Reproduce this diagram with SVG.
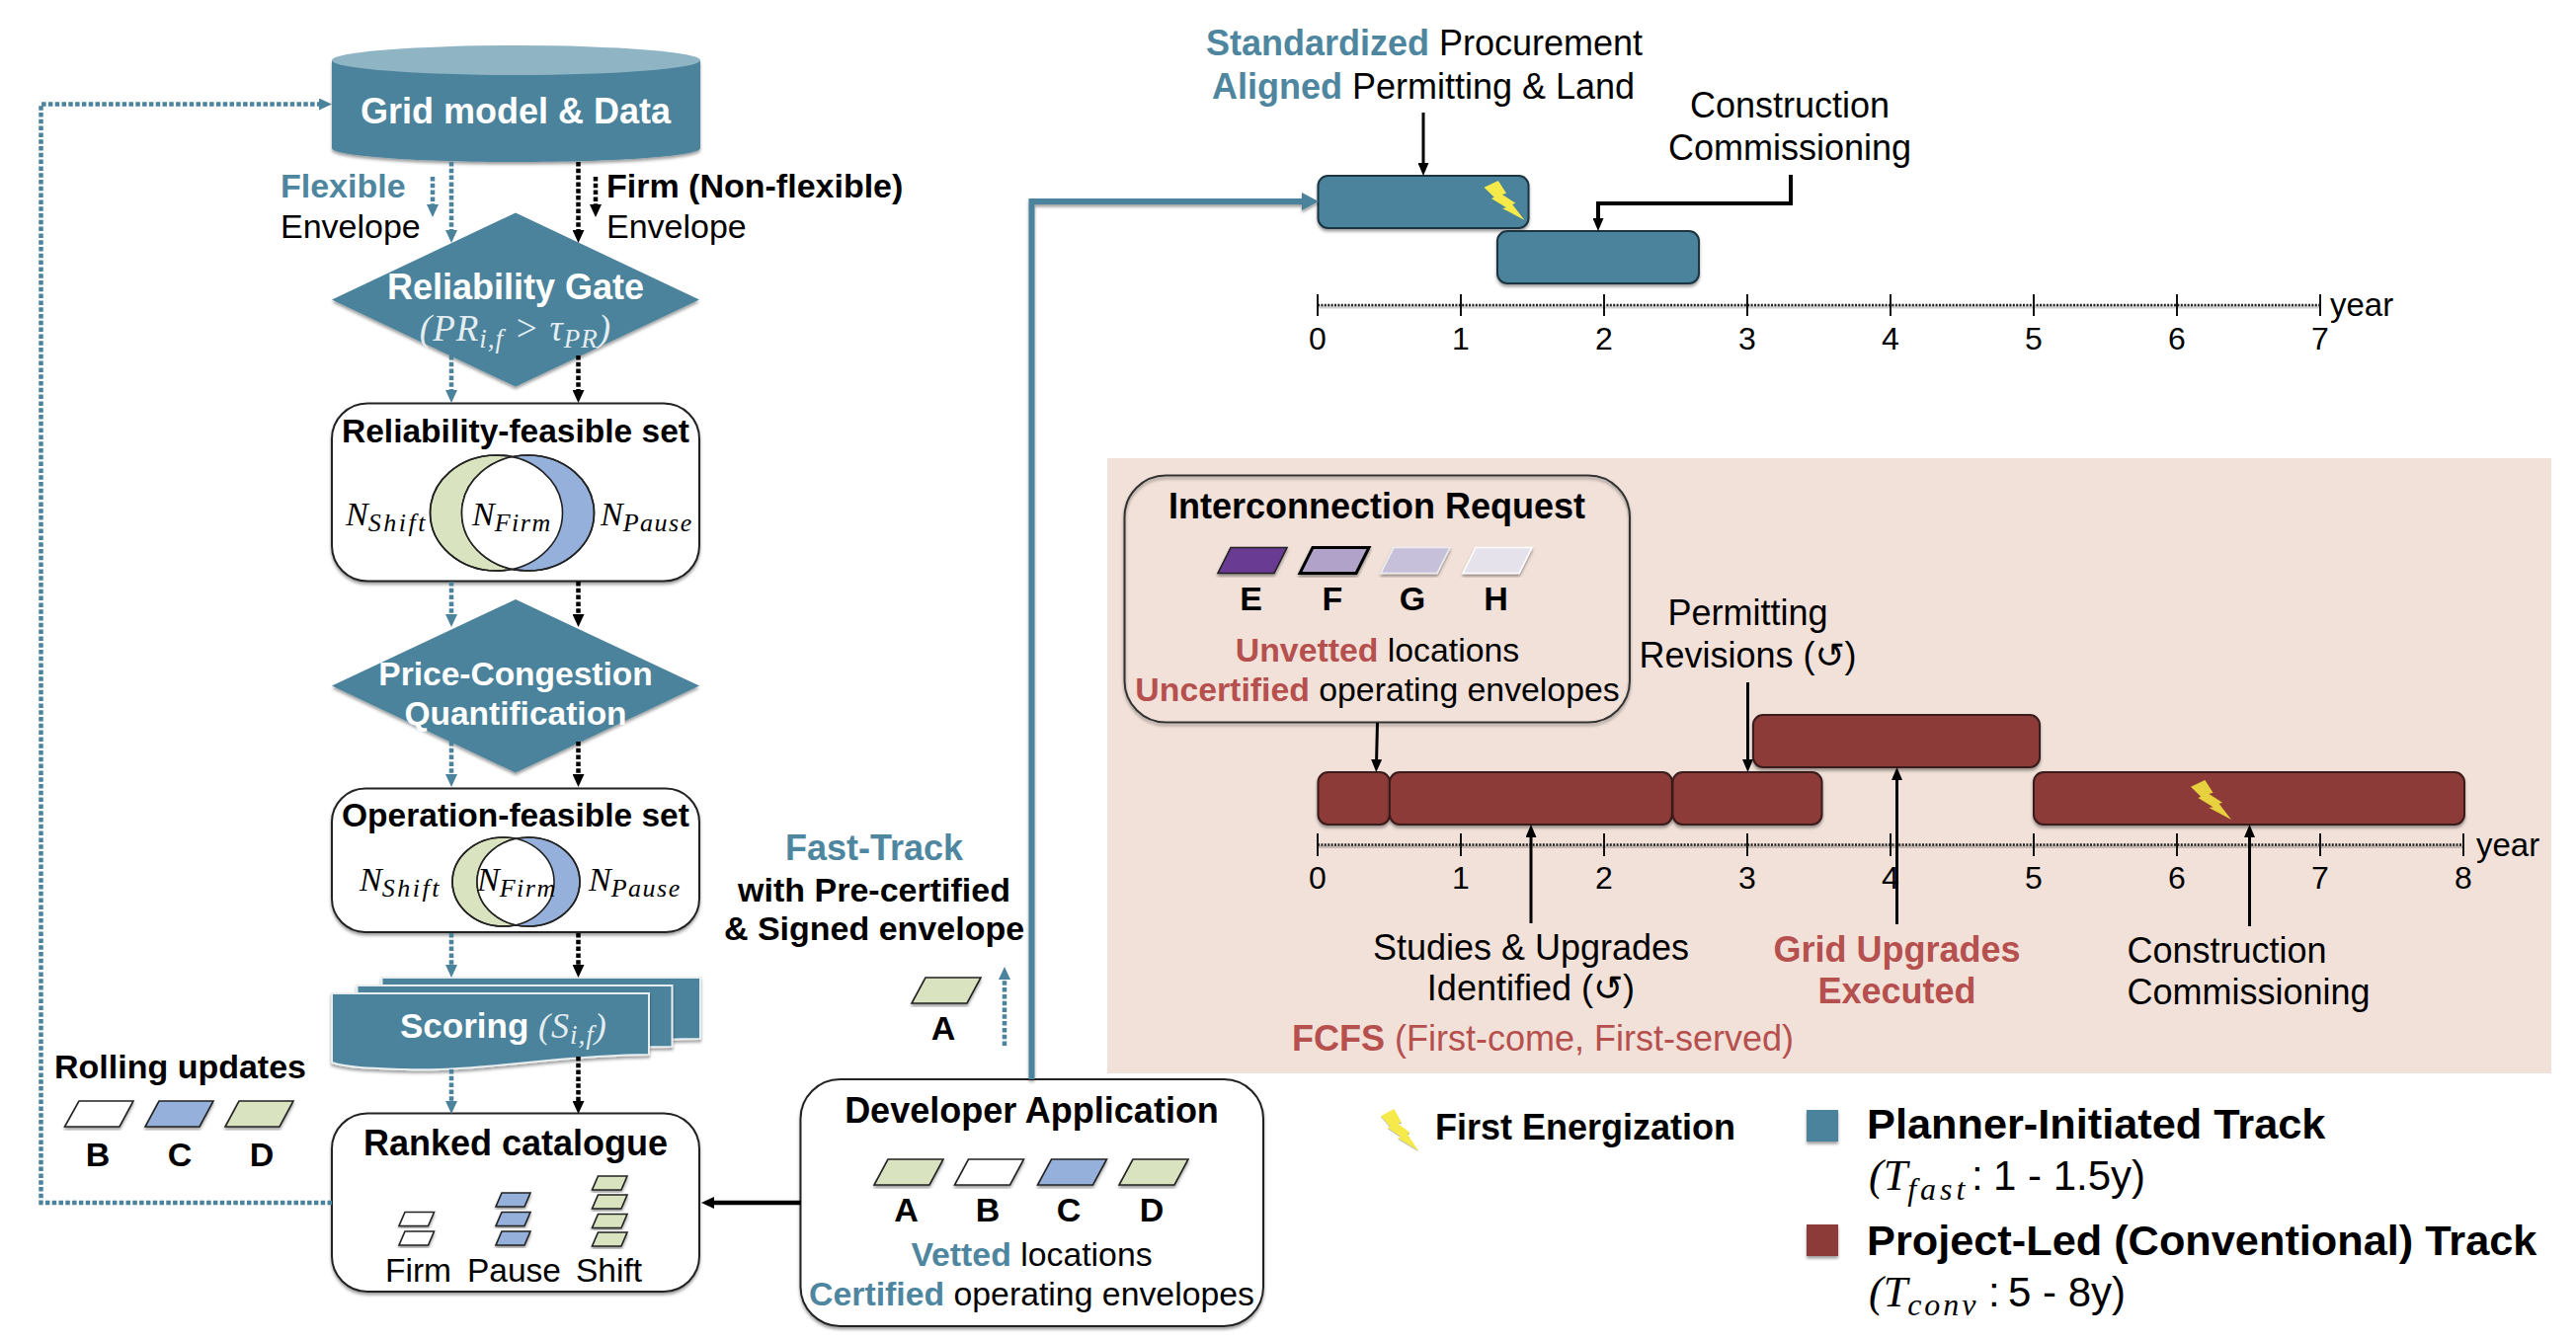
<svg xmlns="http://www.w3.org/2000/svg" width="2608" height="1356" viewBox="0 0 2608 1356">
<style>
text{font-family:"Liberation Sans","DejaVu Sans",sans-serif;fill:#000}
.m{text-anchor:middle}
.b{font-weight:700}
.w{fill:#fff}
.t{fill:#4e86a0}
.r{fill:#b5504e}
.s33{font-size:33.500px}.s34{font-size:34px}.s35{font-size:35px}.s36{font-size:36px}.s32{font-size:32px}.s43{font-size:43.300px}.s42{font-size:42px}
.math{font-family:"Liberation Serif","DejaVu Serif",serif;font-style:italic}
.wine{fill:#8c3a38;stroke:#3a1c1b;stroke-width:2;filter:url(#sh)}
.gate{fill:#4b839c;filter:url(#sh)}
.tbar{fill:#4b839c;stroke:#1d3440;stroke-width:2;filter:url(#sh)}
.box{fill:#fff;stroke:#222;stroke-width:2;filter:url(#sh)}
.pg{stroke:#222;stroke-width:1.6;filter:url(#sh)}
.gr{fill:#d9e3c0}.bl{fill:#95b0db}.wh{fill:#fff}
.cT{fill:none;stroke:#4b839c;stroke-width:4.500;stroke-dasharray:4.500 2.300}
.cK{fill:none;stroke:#000;stroke-width:4.500;stroke-dasharray:4.500 2.300}
.cA{fill:none;stroke:#000;stroke-width:3}
.ax{stroke:#222;stroke-width:2.400;stroke-dasharray:2 1.400}
.axs{stroke:#000;stroke-opacity:.18;stroke-width:3}
.tk{stroke:#111;stroke-width:2}
.v{stroke:#222;stroke-width:1.600}
</style>
<defs>
<filter id="sh" x="-10%" y="-10%" width="120%" height="125%"><feDropShadow dx="0" dy="2.500" stdDeviation="1.600" flood-color="#000" flood-opacity=".38"/></filter>
<marker id="aT" viewBox="0 0 13 12" refX="5" refY="6" markerWidth="13" markerHeight="12" markerUnits="userSpaceOnUse" orient="auto"><path d="M0 0L13 6L0 12z" fill="#4b839c"/></marker>
<marker id="aK" viewBox="0 0 13 12" refX="5" refY="6" markerWidth="13" markerHeight="12" markerUnits="userSpaceOnUse" orient="auto"><path d="M0 0L13 6L0 12z" fill="#000"/></marker>
<marker id="aA" viewBox="0 0 13 11" refX="5" refY="5.500" markerWidth="13" markerHeight="11" markerUnits="userSpaceOnUse" orient="auto"><path d="M0 0L13 5.500L0 11z" fill="#000"/></marker>
<marker id="aB" viewBox="0 0 17 18" refX="6" refY="9" markerWidth="17" markerHeight="18" markerUnits="userSpaceOnUse" orient="auto"><path d="M0 0L17 9L0 18z" fill="#4b839c"/></marker>
<polygon id="bolt" points="35,0 0,17 25,42 18,45 55,68 45,70 100,100 70,60 78,57 45,35 55,32"/>
<clipPath id="v1"><ellipse cx="502.500" cy="519.500" rx="67" ry="58.500"/></clipPath>
<clipPath id="v2"><ellipse cx="509.500" cy="893" rx="51.500" ry="45"/></clipPath>
</defs>

<rect id="panel" x="1121" y="464" width="1462" height="623" fill="#f1e1d9"/>

<g id="grid-model">
<path d="M336 61V150C336 158 420 164 522 164S709 158 709 150V61z" class="gate"/>
<ellipse cx="522.500" cy="61" rx="186.500" ry="15" fill="#8fb4c4"/>
<text x="522" y="125" class="m b s36 w">Grid model &amp; Data</text>
</g>
<g id="flexible-label"><text x="284" y="200" class="b s34 t">Flexible</text><text x="284" y="241" class="s34">Envelope</text></g>
<g id="firm-label"><text x="614" y="200" class="b s34">Firm (Non-flexible)</text><text x="614" y="241" class="s34">Envelope</text></g>

<g id="reliability-gate">
<polygon points="522,215.500 708,303.500 522,391.500 336,303.500" class="gate"/>
<text x="522" y="303" class="m b s36 w">Reliability Gate</text>
<text x="522" y="345" class="m math" font-size="37" style="fill:#e4edf1" letter-spacing="1">(PR<tspan dy="7" font-size="27">i,f</tspan><tspan dy="-7"> &gt; τ</tspan><tspan dy="7" font-size="27">PR</tspan><tspan dy="-7">)</tspan></text>
</g>

<g id="reliability-feasible-set">
<rect x="336" y="408.500" width="372" height="180" rx="36" class="box"/>
<text x="522" y="448" class="m b s33">Reliability-feasible set</text>
<ellipse cx="502.500" cy="519.500" rx="67" ry="58.500" class="gr v"/>
<ellipse cx="534.500" cy="519.500" rx="67" ry="58.500" class="bl v"/>
<ellipse cx="534.500" cy="519.500" rx="67" ry="58.500" fill="#fff" clip-path="url(#v1)"/>
<ellipse cx="502.500" cy="519.500" rx="67" ry="58.500" fill="none" class="v"/>
<ellipse cx="534.500" cy="519.500" rx="67" ry="58.500" fill="none" class="v"/>
<text x="350" y="532" class="math s34">N<tspan dy="6" font-size="26" letter-spacing="2.500">Shift</tspan></text>
<text x="478" y="532" class="math s34">N<tspan dy="6" font-size="26" letter-spacing="1.500">Firm</tspan></text>
<text x="608" y="532" class="math s34">N<tspan dy="6" font-size="26" letter-spacing="1.500">Pause</tspan></text>
</g>

<g id="price-congestion">
<polygon points="522,607 708,694.500 522,782.500 336,694.500" class="gate"/>
<text x="522" y="694" class="m b s33 w">Price-Congestion</text>
<text x="522" y="734" class="m b s33 w">Quantification</text>
</g>

<g id="operation-feasible-set">
<rect x="336" y="798.500" width="372" height="145.500" rx="34" class="box"/>
<text x="522" y="837" class="m b s33">Operation-feasible set</text>
<ellipse cx="509.500" cy="893" rx="51.500" ry="45" class="gr v"/>
<ellipse cx="535" cy="893" rx="52" ry="45" class="bl v"/>
<ellipse cx="535" cy="893" rx="52" ry="45" fill="#fff" clip-path="url(#v2)"/>
<ellipse cx="509.500" cy="893" rx="51.500" ry="45" fill="none" class="v"/>
<ellipse cx="535" cy="893" rx="52" ry="45" fill="none" class="v"/>
<text x="364" y="902" class="math s34">N<tspan dy="6" font-size="26" letter-spacing="2.500">Shift</tspan></text>
<text x="483" y="902" class="math s34">N<tspan dy="6" font-size="26" letter-spacing="1.500">Firm</tspan></text>
<text x="596" y="902" class="math s34">N<tspan dy="6" font-size="26" letter-spacing="1.500">Pause</tspan></text>
</g>

<g id="scoring">
<path d="M386.500 990H709V1052C670 1052 655 1054 640 1056H386.500z" class="gate" stroke="#e8eef0" stroke-width="2"/>
<path d="M361.500 998H680.500V1060C640 1060 625 1062 610 1064H361.500z" class="gate" stroke="#e8eef0" stroke-width="2"/>
<path d="M336 1006H657V1068C570 1068 480 1086 410 1083C380 1082 355 1082 336 1076z" class="gate" stroke="#e8eef0" stroke-width="2"/>
<text x="405" y="1051" class="b s35 w">Scoring <tspan class="math" style="font-weight:400;fill:#e4edf1" font-size="36" letter-spacing="1">(S<tspan dy="6" font-size="27">i,f</tspan><tspan dy="-6">)</tspan></tspan></text>
</g>

<g id="ranked-catalogue">
<rect x="336" y="1127.500" width="372" height="180.500" rx="36" class="box"/>
<text x="522" y="1170" class="m b s36">Ranked catalogue</text>
<polygon points="410,1227.500 439.500,1227.500 433.500,1241.500 404,1241.500" class="pg wh"/>
<polygon points="410,1247 439.500,1247 433.500,1261 404,1261" class="pg wh"/>
<polygon points="508,1208 537,1208 531,1222 502,1222" class="pg bl"/>
<polygon points="508,1227.500 537,1227.500 531,1241.500 502,1241.500" class="pg bl"/>
<polygon points="508,1247 537,1247 531,1261 502,1261" class="pg bl"/>
<polygon points="605.500,1191 635,1191 629,1205 599.500,1205" class="pg gr"/>
<polygon points="605.500,1210 635,1210 629,1224 599.500,1224" class="pg gr"/>
<polygon points="605.500,1229.500 635,1229.500 629,1243.500 599.500,1243.500" class="pg gr"/>
<polygon points="605.500,1248 635,1248 629,1262 599.500,1262" class="pg gr"/>
<text x="390" y="1298" class="s33">Firm</text>
<text x="473" y="1298" class="s33">Pause</text>
<text x="583" y="1298" class="s33">Shift</text>
</g>

<g id="rolling-updates">
<text x="55" y="1092" class="b s34">Rolling updates</text>
<polygon points="80,1115 135,1115 121,1141 65.500,1141" class="pg wh"/>
<polygon points="161,1115 216,1115 202,1141 147,1141" class="pg bl"/>
<polygon points="242,1115 297,1115 283,1141 228,1141" class="pg gr"/>
<text x="99" y="1181" class="m b s34">B</text>
<text x="182" y="1181" class="m b s34">C</text>
<text x="265" y="1181" class="m b s34">D</text>
</g>

<g id="fast-track">
<text x="885" y="871" class="m b s36 t">Fast-Track</text>
<text x="885" y="913" class="m b s34">with Pre-certified</text>
<text x="885" y="952" class="m b s34">&amp; Signed envelope</text>
<polygon points="937,990 993,990 979,1016 923,1016" class="pg gr"/>
<text x="955" y="1053" class="m b s34">A</text>
</g>

<g id="developer-application">
<rect x="810.500" y="1093" width="468.500" height="250" rx="40" class="box"/>
<text x="1044.500" y="1137" class="m b s36">Developer Application</text>
<polygon points="899,1174 955,1174 941,1200 885,1200" class="pg gr"/>
<polygon points="980.500,1174 1036.500,1174 1022.500,1200 966.500,1200" class="pg wh"/>
<polygon points="1064.500,1174 1120.500,1174 1106.500,1200 1050.500,1200" class="pg bl"/>
<polygon points="1147,1174 1203,1174 1189,1200 1133,1200" class="pg gr"/>
<text x="917.500" y="1237" class="m b s34">A</text>
<text x="1000" y="1237" class="m b s34">B</text>
<text x="1082" y="1237" class="m b s34">C</text>
<text x="1166" y="1237" class="m b s34">D</text>
<text x="1044.500" y="1282" class="m" font-size="33.800"><tspan class="b t">Vetted</tspan> locations</text>
<text x="1044.500" y="1322" class="m" font-size="33.800"><tspan class="b t">Certified</tspan> operating envelopes</text>
</g>

<g id="planner-timeline">
<text x="1442" y="56" class="m s36"><tspan class="b t">Standardized</tspan> Procurement</text>
<text x="1441" y="100" class="m s36"><tspan class="b t">Aligned</tspan> Permitting &amp; Land</text>
<text x="1812" y="119" class="m s36">Construction</text>
<text x="1812" y="162" class="m s36">Commissioning</text>
<rect x="1334.500" y="178" width="213" height="53" rx="10" class="tbar"/>
<rect x="1516" y="234" width="204" height="53" rx="10" class="tbar"/>
<use href="#bolt" transform="translate(1502.500 183) scale(.41 .4)" fill="#f5ea4a"/>
<line x1="1334" y1="311" x2="2349" y2="311" class="axs"/>
<line x1="1334" y1="309" x2="2349" y2="309" class="ax"/>
<path d="M1334 298V320M1479 298V320M1624 298V320M1769 298V320M1914 298V320M2059 298V320M2204 298V320M2349 298V320" class="tk"/>
<g class="s32">
<text x="1334" y="354" class="m">0</text><text x="1479" y="354" class="m">1</text><text x="1624" y="354" class="m">2</text><text x="1769" y="354" class="m">3</text><text x="1914" y="354" class="m">4</text><text x="2059" y="354" class="m">5</text><text x="2204" y="354" class="m">6</text><text x="2349" y="354" class="m">7</text>
<text x="2359" y="320" font-size="33">year</text>
</g>
</g>

<g id="interconnection-request">
<rect x="1138.500" y="481.500" width="511.500" height="250" rx="42" fill="none" stroke="#333" stroke-width="2" filter="url(#sh)"/>
<text x="1394" y="525" class="m b s36">Interconnection Request</text>
<polygon points="1246,554.500 1303,554.500 1290,580.500 1233,580.500" fill="#6b3a93" class="pg"/>
<polygon points="1329,554.500 1386,554.500 1373,580.500 1316,580.500" fill="#b0a2c8" stroke="#000" stroke-width="3" filter="url(#sh)"/>
<polygon points="1411,554.500 1468,554.500 1455,580.500 1398,580.500" fill="#c7c0da" stroke="#eee" stroke-width="1.500" filter="url(#sh)"/>
<polygon points="1494,554.500 1551,554.500 1538,580.500 1481,580.500" fill="#e6e2ec" stroke="#fff" stroke-width="1.500" filter="url(#sh)"/>
<text x="1266.500" y="618" class="m b s34">E</text>
<text x="1349" y="618" class="m b s34">F</text>
<text x="1430" y="618" class="m b s34">G</text>
<text x="1514.500" y="618" class="m b s34">H</text>
<text x="1394.500" y="670" class="m" font-size="33.800"><tspan class="b r">Unvetted</tspan> locations</text>
<text x="1394.500" y="710" class="m" font-size="33.800"><tspan class="b r">Uncertified</tspan> operating envelopes</text>
</g>

<g id="conventional-timeline">
<rect x="1334.500" y="782" width="72.500" height="53" rx="10" class="wine"/>
<rect x="1407" y="782" width="286" height="53" rx="10" class="wine"/>
<rect x="1693.500" y="782" width="151" height="53" rx="10" class="wine"/>
<rect x="1775" y="724" width="290" height="53" rx="10" class="wine"/>
<rect x="2059" y="782" width="436" height="53" rx="10" class="wine"/>
<use href="#bolt" transform="translate(2218 790) scale(.41 .4)" fill="#e8d13f"/>
<line x1="1334" y1="857.500" x2="2494" y2="857.500" class="axs"/>
<line x1="1334" y1="855.500" x2="2494" y2="855.500" class="ax"/>
<path d="M1334 844V867M1479 844V867M1624 844V867M1769 844V867M1914 844V867M2059 844V867M2204 844V867M2349 844V867M2494 844V867" class="tk"/>
<g class="s32">
<text x="1334" y="900" class="m">0</text><text x="1479" y="900" class="m">1</text><text x="1624" y="900" class="m">2</text><text x="1769" y="900" class="m">3</text><text x="1914" y="900" class="m">4</text><text x="2059" y="900" class="m">5</text><text x="2204" y="900" class="m">6</text><text x="2349" y="900" class="m">7</text><text x="2494" y="900" class="m">8</text>
<text x="2507" y="867" font-size="33">year</text>
</g>
<text x="1769.500" y="633" class="m s36">Permitting</text>
<text x="1769.500" y="676" class="m s36">Revisions (↺)</text>
<text x="1550" y="972" class="m s36">Studies &amp; Upgrades</text>
<text x="1550" y="1013" class="m s36">Identified (↺)</text>
<text x="1920.500" y="974" class="m b s36 r">Grid Upgrades</text>
<text x="1920.500" y="1016" class="m b s36 r">Executed</text>
<text x="2153.500" y="975" class="s36">Construction</text>
<text x="2153.500" y="1017" class="s36">Commissioning</text>
<text x="1308" y="1064" class="s36 r"><tspan class="b r">FCFS</tspan> (First-come, First-served)</text>
</g>

<g id="legend">
<use href="#bolt" transform="translate(1398 1123) scale(.38 .42)" fill="#f5ea4a" filter="url(#sh)"/>
<text x="1453" y="1154" class="b s36">First Energization</text>
<rect x="1829" y="1124" width="32" height="32" class="gate"/>
<text x="1890" y="1153" class="b s43">Planner-Initiated Track</text>
<text x="1892" y="1205" class="math" font-size="44">(T<tspan dy="10" font-size="32" letter-spacing="4">fast</tspan></text>
<text x="1996" y="1205" class="s42">:</text>
<text x="2018" y="1205" class="s42">1 - 1.5y)</text>
<rect x="1829" y="1240" width="32" height="32" fill="#8c3a38" filter="url(#sh)"/>
<text x="1890" y="1271" class="b s43">Project-Led (Conventional) Track</text>
<text x="1892" y="1323" class="math" font-size="44">(T<tspan dy="9" font-size="32" letter-spacing="3">conv</tspan></text>
<text x="2013" y="1323" class="s42">:</text>
<text x="2033" y="1323" class="s42">5 - 8y)</text>
</g>

<g id="connectors">
<path d="M457 164V238" class="cT" marker-end="url(#aT)"/>
<path d="M585.500 164V238" class="cK" marker-end="url(#aK)"/>
<path d="M438 179V212" class="cT" marker-end="url(#aT)"/>
<path d="M603 179V212" class="cK" marker-end="url(#aK)"/>
<path d="M457 360V400" class="cT" marker-end="url(#aT)"/>
<path d="M585.500 360V400" class="cK" marker-end="url(#aK)"/>
<path d="M457 589V627" class="cT" marker-end="url(#aT)"/>
<path d="M585.500 589V627" class="cK" marker-end="url(#aK)"/>
<path d="M457 751V789" class="cT" marker-end="url(#aT)"/>
<path d="M585.500 751V789" class="cK" marker-end="url(#aK)"/>
<path d="M457 945V982" class="cT" marker-end="url(#aT)"/>
<path d="M585.500 945V982" class="cK" marker-end="url(#aK)"/>
<path d="M457 1083V1120" class="cT" marker-end="url(#aT)"/>
<path d="M585.500 1070V1120" class="cK" marker-end="url(#aK)"/>
<path d="M336 1218H41.500V105.500H328" class="cT" marker-end="url(#aT)"/>
<path d="M1017 1059V987" class="cT" marker-end="url(#aT)"/>
<path d="M811 1218H718" fill="none" stroke="#000" stroke-width="4.500" marker-end="url(#aK)"/>
<path d="M1044.500 1093V204H1324" fill="none" stroke="#4b839c" stroke-width="6" marker-end="url(#aB)" filter="url(#sh)"/>
<path d="M1441 114V170" class="cA" marker-end="url(#aA)"/>
<path d="M1813 177V206H1618V226" fill="none" stroke="#000" stroke-width="4" marker-end="url(#aA)"/>
<path d="M1394.500 732L1393.500 774" class="cA" marker-end="url(#aA)"/>
<path d="M1769.500 691V774" class="cA" marker-end="url(#aA)"/>
<path d="M1550 935V843" class="cA" marker-end="url(#aA)"/>
<path d="M1920.500 936V785" class="cA" marker-end="url(#aA)"/>
<path d="M2277.500 938V843" class="cA" marker-end="url(#aA)"/>
</g>
</svg>
